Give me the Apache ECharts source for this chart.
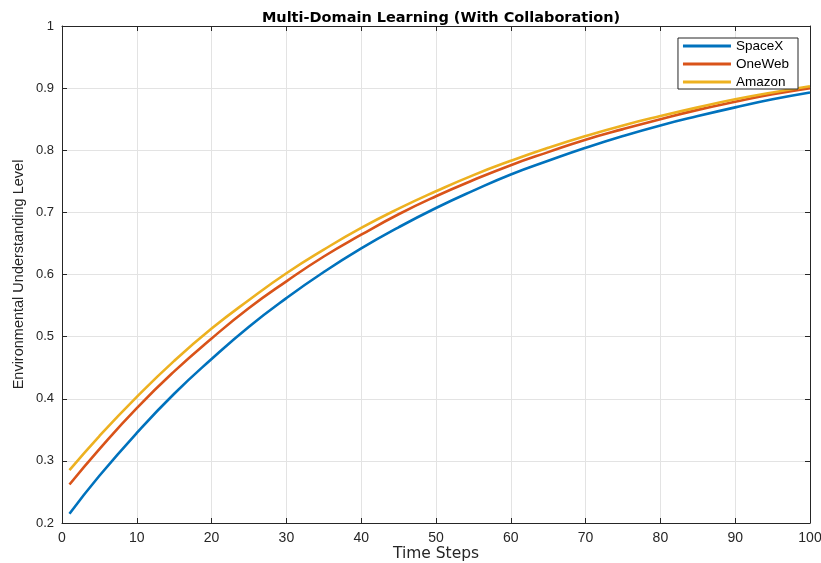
<!DOCTYPE html>
<html>
<head>
<meta charset="utf-8">
<script src="https://cdn.jsdelivr.net/npm/echarts@6/dist/echarts.min.js"></script>
<style>html,body{margin:0;padding:0;background:#fff;}#c{width:821px;height:563px;}</style>
</head>
<body>
<div id="c"></div>
<script>
const timeSteps = [1, 5, 10, 15, 20, 25, 30, 35, 40, 45, 50, 55, 60, 65, 70, 75, 80, 85, 90, 95, 100];
const spacex = [0.215, 0.276, 0.345, 0.408, 0.464, 0.516, 0.562, 0.604, 0.642, 0.676, 0.707, 0.735, 0.761, 0.783, 0.804, 0.823, 0.840, 0.855, 0.869, 0.882, 0.893];
const oneweb = [0.262, 0.319, 0.385, 0.444, 0.497, 0.546, 0.589, 0.629, 0.664, 0.697, 0.726, 0.752, 0.776, 0.797, 0.817, 0.834, 0.850, 0.865, 0.878, 0.890, 0.900];
const amazon = [0.285, 0.340, 0.403, 0.461, 0.513, 0.559, 0.602, 0.640, 0.675, 0.706, 0.734, 0.760, 0.783, 0.804, 0.823, 0.840, 0.855, 0.869, 0.882, 0.893, 0.903];
const seriesNames = ['SpaceX', 'OneWeb', 'Amazon'];
const seriesColors = ['#0072BD', '#D95319', '#EDB120'];
const titleText = 'Multi-Domain Learning (With Collaboration)';
const xLabel = 'Time Steps';
const yLabel = 'Environmental Understanding Level';

const allData = [spacex, oneweb, amazon];
const font = "'Liberation Sans', Arial, Helvetica, sans-serif";
const wide = "'DejaVu Sans', 'Liberation Sans', Arial, sans-serif";
const axisCol = '#262626';

const chart = echarts.init(document.getElementById('c'), null, {renderer: 'canvas'});
chart.setOption({
  backgroundColor: '#ffffff',
  animation: false,
  title: {
    text: titleText, left: 436, top: 6, textAlign: 'center',
    textStyle: {fontFamily: wide, fontSize: 14.5, fontWeight: 'bold', color: '#000'}
  },
  legend: {
    orient: 'vertical', right: 23, top: 38,
    data: seriesNames,
    icon: 'rect',
    itemWidth: 48, itemHeight: 3, itemGap: 4,
    backgroundColor: '#fff', borderColor: '#262626', borderWidth: 1, borderRadius: 0,
    padding: [1, 9, 0, 5],
    textStyle: {fontFamily: font, fontSize: 13.5, color: '#000'}
  },
  grid: {left: 62, right: 11, top: 26, bottom: 40, containLabel: false, outerBoundsMode: 'none'},
  xAxis: [{
    type: 'value', min: 0, max: 100, interval: 10,
    name: xLabel, nameLocation: 'middle', nameGap: 23, nameMoveOverlap: false,
    nameTextStyle: {fontFamily: wide, fontSize: 15.5, color: axisCol},
    axisLine: {show: true, lineStyle: {color: axisCol, width: 1}},
    axisTick: {show: true, inside: true, length: 5, lineStyle: {color: axisCol}},
    axisLabel: {fontFamily: font, fontSize: 14, color: axisCol, margin: 8},
    splitLine: {show: true, lineStyle: {color: '#e3e3e3', width: 1}}
  }, {
    type: 'value', min: 0, max: 100, interval: 10, position: 'top',
    axisLine: {show: true, onZero: false, lineStyle: {color: axisCol, width: 1}},
    axisTick: {show: true, inside: true, length: 5, lineStyle: {color: axisCol}},
    axisLabel: {show: false}, splitLine: {show: false}
  }],
  yAxis: [{
    type: 'value', min: 0.2, max: 1, interval: 0.1,
    name: yLabel, nameLocation: 'middle', nameGap: 36, nameMoveOverlap: false,
    nameTextStyle: {fontFamily: font, fontSize: 14.5, color: axisCol},
    axisLine: {show: true, lineStyle: {color: axisCol, width: 1}},
    axisTick: {show: true, inside: true, length: 5, lineStyle: {color: axisCol}},
    axisLabel: {fontFamily: font, fontSize: 13, color: axisCol, margin: 8,
      formatter: v => String(Math.round(v * 10) / 10)},
    splitLine: {show: true, lineStyle: {color: '#e3e3e3', width: 1}}
  }, {
    type: 'value', min: 0.2, max: 1, interval: 0.1, position: 'right',
    axisLine: {show: true, onZero: false, lineStyle: {color: axisCol, width: 1}},
    axisTick: {show: true, inside: true, length: 5, lineStyle: {color: axisCol}},
    axisLabel: {show: false}, splitLine: {show: false}
  }],
  series: seriesNames.map((n, i) => ({
    name: n, type: 'line', xAxisIndex: 0, yAxisIndex: 0,
    data: timeSteps.map((t, j) => [t, allData[i][j]]),
    smooth: true, symbol: 'none', showSymbol: false,
    color: seriesColors[i],
    itemStyle: {color: seriesColors[i]},
    lineStyle: {color: seriesColors[i], width: 2.6}
  }))
});
</script>
</body>
</html>
